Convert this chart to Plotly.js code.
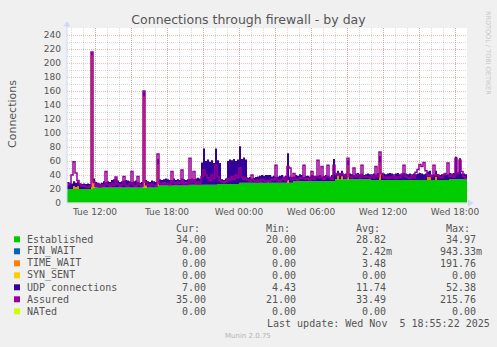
<!DOCTYPE html>
<html><head><meta charset="utf-8">
<script src="https://cdn.plot.ly/plotly-3.0.1.min.js"></script>
<style>html,body{margin:0;padding:0;background:#F0F0F0;overflow:hidden;}</style>
</head><body><div id="chart" style="width:497px;height:347px;"></div>
<script>
// ---- data: 10-minute samples starting Tue 2025-11-04 09:40 ----
const startUTC = Date.UTC(2025, 10, 4, 9, 40);
const stepMs = 10 * 60 * 1000;

const established = [
  20,20,20,20,20,20,20,20,20,20,
  20,20,20,22,22,22,22,22,22,22,
  22,22,22,22,22,22,22,22,22,22,
  22,22,22,22,22,22,22,22,22,22,
  22,22,22,22,22,25,25,25,25,25,
  25,25,25,25,25,25,25,25,25,25,
  25,26,26,26,26,26,26,26,26,26,
  26,26,26,26,26,27,27,27,27,27,
  27,27,27,27,27,27,29,29,29,29,
  29,29,29,29,29,29,29,29,29,29,
  29,29,29,29,29,29,29,29,29,29,
  29,29,29,31,31,31,31,31,31,31,
  31,31,31,31,31,31,31,31,31,31,
  31,31,31,31,34,34,34,34,34,34,
  34,34,34,34,34,34,34,34,34,34,
  34,34,33,33,33,33,33,33,33,33,
  33,33,33,33,33,33,33,33,33,33,
  33,33,33,33,33,33,33,33,33,33,
  33,33,33,33,33,33,33,33,33,33,
  33,34,34,34,34,34,34,34,34,34,34
];
const finWait = [
  0,0,0,0,0,0,0,0,0,0, 0,0,0,0,0,0,0,0,0,0,
  0,0,0,0,0,0,0,0,0,0, 0,0,0,0,0,0,0,0,0,0,
  0,0,0,0,0,0,0,0,0,0, 0,0,0,0,0,0,0,0,0,0,
  0,0,0,0,0,0,0,0,0,0, 0,0,0,0,0,0,0,0,0,0,
  0,0,0,0,0,0,0,0,0,0, 0,0,0,0,0,0,0,0,0,0,
  0.94,0,0,0,0,0,0,0,0,0, 0,0,0,0,0,0,0,0,0,0,
  0,0,0,0,0,0,0,0,0,0, 0,0,0,0,0,0,0,0,0,0,
  0,0,0,0,0,0,0,0,0,0, 0,0,0,0,0,0,0,0,0,0,
  0,0,0,0,0,0,0,0,0,0, 0,0,0,0,0,0,0,0,0,0,
  0,0,0,0,0,0,0,0,0,0, 0,0,0,0,0,0,0,0,0,0,0
];
const timeWait = [
  0,0,0,4,3,4,0,0,0,0,
  0,0,191,6,0,0,0,0,0,0,
  0,0,0,0,0,0,0,0,0,0,
  0,0,0,0,0,0,0,0,130,3,
  0,0,0,0,0,30,0,0,0,0,
  0,0,0,0,0,0,0,0,0,0,
  0,0,0,0,0,0,0,0,0,0,
  0,0,0,0,0,0,0,0,0,0,
  0,0,0,0,0,0,0,0,0,0,
  0,0,0,0,0,0,0,0,0,0,
  0,0,0,0,0,0,0,0,0,0,
  4,0,0,0,0,0,0,0,0,0,
  0,0,0,0,0,0,0,0,0,0,
  0,0,0,0,0,5,0,4,0,0,
  20,0,0,0,0,0,0,0,0,0,
  0,0,0,0,0,0,25,0,0,0,
  0,0,0,0,0,0,0,0,0,0,
  0,0,0,0,0,0,0,0,0,0,
  4,4,0,0,4,0,0,0,0,0,
  0,0,0,0,0,0,0,0,0,0,0
];
const synSent = [
  0,0,0,0,0,0,0,0,0,0, 0,0,0,0,0,0,0,0,0,0,
  0,0,0,0,0,0,0,0,0,0, 0,0,0,0,0,0,0,0,0,0,
  0,0,0,0,0,0,0,0,0,0, 0,0,0,0,0,0,0,0,0,0,
  0,0,0,0,0,0,0,0,0,0, 0,0,0,0,0,0,0,0,0,0,
  0,0,0,0,0,0,0,0,0,0, 0,0,0,0,0,0,0,0,0,0,
  0,0,0,0,0,0,0,0,0,0, 0,0,0,0,0,0,0,0,0,0,
  0,0,0,0,0,0,0,0,0,0, 0,0,0,0,0,0,0,0,0,0,
  0,0,0,0,0,0,0,0,0,0, 0,0,0,0,0,0,0,0,0,0,
  0,0,0,0,0,0,0,0,0,0, 0,0,0,0,0,0,0,0,0,0,
  0,0,0,0,0,0,0,0,0,0, 0,0,0,0,0,0,0,0,0,0,0
];
const udp = [
  10,9,8,7,6,7,8,7,8,7,
  8,7,4.5,7,8,7,6,7,9,8,
  9,8,11,12,13,10,8,9,10,11,
  10,9,8,9,10,8,7,8,7,8,
  9,8,10,9,8,8,9,8,9,10,
  9,8,8,10,8,9,8,10,9,8,
  9,8,9,8,9,10,9,32,52,34,
  36,33,35,31,52,34,30,7,6,8,
  33,35,34,36,33,35,52,34,36,33,
  7,8,6,7,8,9,10,11,10,11,
  10,11,9,10,8,9,10,11,9,10,
  38,9,8,7,9,8,10,9,6,8,
  8,7,9,8,7,8,9,7,8,9,
  8,7,9,32,8,7,9,8,7,8,
  7,8,7,6,8,9,7,8,6,7,
  8,7,8,9,8,10,9,8,9,8,
  9,10,9,8,9,10,8,9,10,9,
  8,9,8,9,8,9,10,9,8,9,
  8,9,7,8,9,8,7,8,9,8,
  8,9,8,9,32,10,30,8,8,7,7
];
const assured = [
  26,28,40,59,43,32,27,24,25,23,
  22,24,215.8,30,24,27,23,26,24,45,
  26,24,28,25,37,27,24,26,38,25,
  24,27,45,25,24,38,26,24,160,30,
  26,24,27,25,24,70,28,27,29,27,
  28,26,45,29,27,30,28,47,27,29,
  27,64,29,45,28,30,27,38,47,40,
  36,32,40,35,54,38,33,30,29,31,
  35,33,38,34,40,36,50,37,34,36,
  33,31,40,32,30,33,31,34,32,30,
  32,31,34,33,54,32,31,34,36,32,
  52,50,33,42,34,33,36,35,54,34,
  35,33,45,34,38,61,36,52,34,37,
  54,36,34,54,41,42,40,42,40,36,
  64,38,36,50,37,40,36,54,37,38,
  37,36,39,36,52,38,73,42,36,37,
  35,37,36,39,35,37,36,41,54,38,
  36,35,39,36,44,48,55,52,58,46,
  39,40,38,54,39,40,37,36,40,42,
  57,38,40,37,64,42,61,45,38,35,35
];
const nated = [
  0,0,0,0,0,0,0,0,0,0, 0,0,0,0,0,0,0,0,0,0,
  0,0,0,0,0,0,0,0,0,0, 0,0,0,0,0,0,0,0,0,0,
  0,0,0,0,0,0,0,0,0,0, 0,0,0,0,0,0,0,0,0,0,
  0,0,0,0,0,0,0,0,0,0, 0,0,0,0,0,0,0,0,0,0,
  0,0,0,0,0,0,0,0,0,0, 0,0,0,0,0,0,0,0,0,0,
  0,0,0,0,0,0,0,0,0,0, 0,0,0,0,0,0,0,0,0,0,
  0,0,0,0,0,0,0,0,0,0, 0,0,0,0,0,0,0,0,0,0,
  0,0,0,0,0,0,0,0,0,0, 0,0,0,0,0,0,0,0,0,0,
  0,0,0,0,0,0,0,0,0,0, 0,0,0,0,0,0,0,0,0,0,
  0,0,0,0,0,0,0,0,0,0, 0,0,0,0,0,0,0,0,0,0,0
];

// ---- axis ticks ----
const xTickVals = ['2025-11-04 12:00','2025-11-04 15:00','2025-11-04 18:00','2025-11-04 21:00',
  '2025-11-05 00:00','2025-11-05 03:00','2025-11-05 06:00','2025-11-05 09:00',
  '2025-11-05 12:00','2025-11-05 15:00','2025-11-05 18:00'];
const xTickText = ['Tue 12:00','','Tue 18:00','','Wed 00:00','','Wed 06:00','','Wed 12:00','','Wed 18:00'];
const xRange = ['2025-11-04 09:40','2025-11-05 19:00'];
const yRange = [0, 250];

// ---- legend table ----
const seriesNames = ['Established','FIN_WAIT','TIME_WAIT','SYN_SENT','UDP connections','Assured','NATed'];
const seriesColors = ['#00CC00','#0066B3','#FF8000','#FFCC00','#330099','#990099','#CCFF00'];
const curVals = ['34.00','0.00','0.00','0.00','7.00','35.00','0.00'];
const minVals = ['20.00','0.00','0.00','0.00','4.43','21.00','0.00'];
const avgVals = ['28.82','2.42m','3.48','0.00','11.74','33.49','0.00'];
const maxVals = ['34.97','943.33m','191.76','0.00','52.38','215.76','0.00'];
const lastUpdate = 'Last update: Wed Nov\u00A0\u00A05 18:55:22 2025';

// ---- build ----
function stamp(ms){ return new Date(ms).toISOString().slice(0,16).replace('T',' '); }
const times = established.map((_, i) => stamp(startUTC + i * stepMs));

const L = 67, R = 467, T = 28, B = 203;
const px = x => (x - L) / (R - L);
const py = y => (B - y) / (B - T);
const TXT = '#555555';

function stackTrace(y, color){
  return {x: times, y: y, type:'scatter', mode:'lines', stackgroup:'s',
    line:{width:0, shape:'hv'}, fillcolor: color, hoverinfo:'skip'};
}
const traces = [
  stackTrace(established, seriesColors[0]),
  stackTrace(finWait, seriesColors[1]),
  stackTrace(timeWait, seriesColors[2]),
  stackTrace(synSent, seriesColors[3]),
  stackTrace(udp, seriesColors[4]),
  {x: times, y: assured, type:'scatter', mode:'lines', line:{width:1.5, color:seriesColors[5], shape:'hv'}, hoverinfo:'skip'},
  {x: times, y: nated, type:'scatter', mode:'lines', line:{width:1, color:seriesColors[6], shape:'hv'}, hoverinfo:'skip'}
];

function note(text, x, y, xanchor, size, color, family, extra){
  return Object.assign({text: text, x: px(x), y: py(y), xref:'paper', yref:'paper',
    showarrow:false, xanchor: xanchor, yanchor:'middle', borderpad:0,
    font:{family: family || 'DejaVu Sans Mono', size: size || 10, color: color || TXT}}, extra || {});
}

const annotations = [];
const shapes = [];
annotations.push(note('Cur:', 200.5, 228.3, 'right'));
annotations.push(note('Min:', 290.5, 228.3, 'right'));
annotations.push(note('Avg:', 380.5, 228.3, 'right'));
annotations.push(note('Max:', 471, 228.3, 'right'));
const colEnds = [206.5, 296.5, 386.5, 477];
const cols = [curVals, minVals, avgVals, maxVals];
seriesNames.forEach((name, k) => {
  const yy = 239.3 + 12 * k;
  annotations.push(note(name, 25.5, yy, 'left'));
  cols.forEach((col, c) => {
    const v = col[k];
    const end = colEnds[c] + (/[a-zA-Z]$/.test(v) ? 6 : 0);
    annotations.push(note(v, end, yy, 'right'));
  });
  shapes.push({type:'rect', xref:'paper', yref:'paper', x0: px(14), x1: px(20),
    y0: py(yy + 3), y1: py(yy - 3), fillcolor: seriesColors[k], line:{width:0}, layer:'above'});
});
annotations.push(note(lastUpdate, 490.5, 323.3, 'right'));
annotations.push(note('Munin 2.0.75', 247.7, 336, 'center', 7, '#B4B4B4', 'DejaVu Sans'));
annotations.push(note('RRDTOOL / TOBI OETIKER', 488, 53, 'center', 6.5, '#C8C8C8', 'DejaVu Sans', {textangle: 90}));
annotations.push(note('Connections', 12, 114, 'center', 11, TXT, 'DejaVu Sans', {textangle: -90}));

// axis arrows & extensions
const axisCol = '#CFD6F8';
shapes.push({type:'line', xref:'paper', yref:'paper', x0:px(67), x1:px(67), y0:py(203), y1:py(24), line:{color:axisCol, width:1}});
shapes.push({type:'path', xref:'paper', yref:'paper',
  path:`M ${px(63.5)} ${py(26.5)} L ${px(67)} ${py(21)} L ${px(70.5)} ${py(26.5)} Z`, fillcolor:axisCol, line:{width:0}});
shapes.push({type:'line', xref:'paper', yref:'paper', x0:px(67), x1:px(470), y0:py(203), y1:py(203), line:{color:axisCol, width:1}});
shapes.push({type:'path', xref:'paper', yref:'paper',
  path:`M ${px(468)} ${py(199.5)} L ${px(473.5)} ${py(203)} L ${px(468)} ${py(206.5)} Z`, fillcolor:axisCol, line:{width:0}});

const majorGrid = 'rgba(222,48,48,0.33)';
const minorGrid = 'rgba(143,143,143,0.33)';
const layout = {
  width:497, height:347,
  margin:{l:L, r:497-R, t:T, b:347-B, pad:0},
  paper_bgcolor:'#F0F0F0', plot_bgcolor:'#FFFFFF',
  showlegend:false,
  font:{family:'DejaVu Sans', color:TXT},
  title:{text:'Connections through firewall - by day', font:{family:'DejaVu Sans', size:12.5, color:TXT},
    x:0.5, xref:'container', xanchor:'center', y:1-19.5/347, yref:'container', yanchor:'middle'},
  xaxis:{type:'date', range:xRange, tickmode:'array', tickvals:xTickVals, ticktext:xTickText,
    ticks:'', showline:false, zeroline:false, showgrid:true, gridcolor:majorGrid, griddash:'1px,1px', gridwidth:1,
    tickfont:{family:'DejaVu Sans', size:9, color:TXT}, ticklabelstandoff:2,
    minor:{tickmode:'linear', tick0:'2025-11-04 00:00', dtick:3600000, showgrid:true, gridcolor:minorGrid, griddash:'1px,1px', ticks:''},
    fixedrange:true},
  yaxis:{range:yRange, tickmode:'linear', tick0:0, dtick:20, ticks:'', showline:false, zeroline:false,
    showgrid:true, gridcolor:majorGrid, griddash:'1px,1px', gridwidth:1,
    tickfont:{family:'DejaVu Sans', size:9, color:TXT}, ticklabelstandoff:5,
    minor:{tickmode:'linear', tick0:0, dtick:10, showgrid:true, gridcolor:minorGrid, griddash:'1px,1px', ticks:''},
    fixedrange:true},
  annotations: annotations,
  shapes: shapes
};
Plotly.newPlot('chart', traces, layout, {staticPlot:true, displayModeBar:false});
</script>
</body></html>
